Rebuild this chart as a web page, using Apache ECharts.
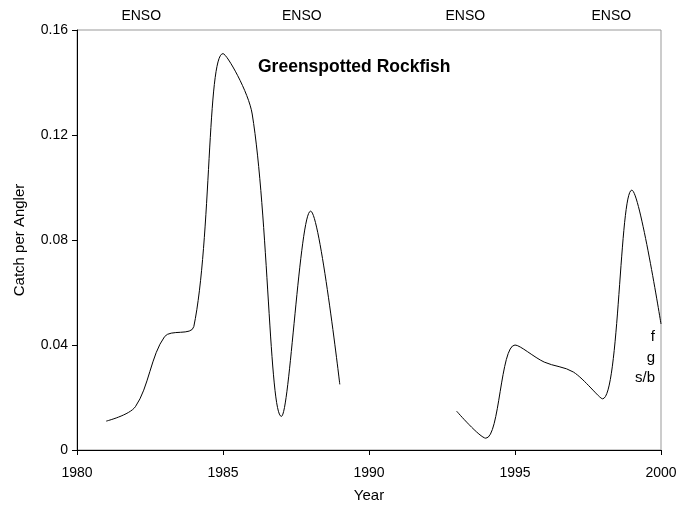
<!DOCTYPE html>
<html>
<head>
<meta charset="utf-8">
<script src="https://cdn.jsdelivr.net/npm/echarts@6/dist/echarts.min.js"></script>
<style>
  html, body { margin: 0; padding: 0; background: #fff; }
  #chart { width: 685px; height: 508px; }
</style>
</head>
<body>
<div id="chart"></div>
<script>
// data
var years = [1981, 1982, 1983, 1984, 1985, 1986, 1987, 1988, 1989, 1990, 1991, 1992,
             1993, 1994, 1995, 1996, 1997, 1998, 1999, 2000];
var catchPerAngler = [0.011, 0.0165, 0.0432, 0.047, 0.151, 0.128, 0.0128, 0.091, 0.025, null, null, null,
                      0.0148, 0.0045, 0.040, 0.0335, 0.0297, 0.0195, 0.099, 0.048];
var ensoYears = [1982.2, 1987.7, 1993.3, 1998.3];
var sideNotes = ['f', 'g', 's/b'];

var font = '"Liberation Sans", Arial, sans-serif';
var chart = echarts.init(document.getElementById('chart'));

var seriesData = years.map(function (y, i) {
    return [y, catchPerAngler[i] === null ? '-' : catchPerAngler[i]];
});

var option = {
    animation: false,
    grid: {
        left: 77, right: 24, top: 30, bottom: 56,
        show: true,
        borderColor: '#999',
        borderWidth: 1
    },
    xAxis: {
        type: 'value',
        min: 1980, max: 2000, interval: 5,
        name: 'Year',
        nameLocation: 'middle',
        nameGap: 38,
        nameTextStyle: { fontFamily: font, fontSize: 15, color: '#000' },
        axisLine: { lineStyle: { color: '#000', width: 1 } },
        axisTick: { show: true, length: 5, lineStyle: { color: '#000' } },
        axisLabel: {
            fontFamily: font, fontSize: 14, color: '#000', margin: 16,
            formatter: function (v) { return String(v); }
        },
        splitLine: { show: false }
    },
    yAxis: {
        type: 'value',
        min: 0, max: 0.16, interval: 0.04,
        name: 'Catch per Angler',
        nameLocation: 'middle',
        nameGap: 50,
        nameTextStyle: { fontFamily: font, fontSize: 15, color: '#000' },
        axisLine: { show: true, lineStyle: { color: '#000', width: 1 } },
        axisTick: { show: true, length: 5, lineStyle: { color: '#000' } },
        axisLabel: {
            fontFamily: font, fontSize: 14, color: '#000', margin: 9,
            formatter: function (v) { return v === 0 ? '0' : v.toFixed(2); }
        },
        splitLine: { show: false }
    },
    series: [{
        type: 'line',
        data: seriesData,
        smooth: 0.33,
        connectNulls: false,
        showSymbol: false,
        lineStyle: { color: '#000', width: 1 }
    }]
};
chart.setOption(option);

// text annotations: ENSO markers above the plot, title, side notes
var graphics = [];
ensoYears.forEach(function (yr) {
    var p = chart.convertToPixel({ gridIndex: 0 }, [yr, 0.16]);
    graphics.push({
        type: 'text', x: p[0], y: 16,
        style: { text: 'ENSO', fontFamily: font, fontSize: 14, fill: '#000',
                 align: 'center', verticalAlign: 'middle' }
    });
});
graphics.push({
    type: 'text', x: 258, y: 67,
    style: { text: 'Greenspotted Rockfish', fontFamily: font, fontSize: 17.5,
             fontWeight: 'bold', fill: '#000', align: 'left', verticalAlign: 'middle' }
});
sideNotes.forEach(function (t, i) {
    graphics.push({
        type: 'text', x: 655, y: 337 + i * 20.5,
        style: { text: t, fontFamily: font, fontSize: 15, fill: '#000',
                 align: 'right', verticalAlign: 'middle' }
    });
});
chart.setOption({ graphic: graphics });
</script>
</body>
</html>
